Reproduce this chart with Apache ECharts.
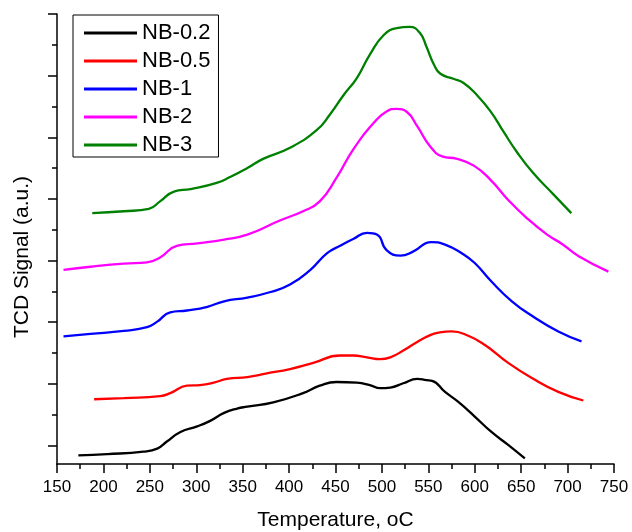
<!DOCTYPE html>
<html>
<head>
<meta charset="utf-8">
<script src="https://cdn.jsdelivr.net/npm/echarts@6/dist/echarts.min.js"></script>
<style>html,body{margin:0;padding:0;background:#fff;}#c{width:632px;height:532px;}</style>
</head>
<body>
<div id="c"></div>
<script>
const seriesNames = ['NB-0.2', 'NB-0.5', 'NB-1', 'NB-2', 'NB-3'];
const seriesColors = ['#000000', '#ff0000', '#0000ff', '#ff00ff', '#008000'];
const xTicks = [150, 750, 50];
const yMajorTicks = [0.3, 1.3, 2.3, 3.3, 4.3, 5.3, 6.3, 7.3];
const yMinorTicks = [0.8, 1.8, 2.8, 3.8, 4.8, 5.8, 6.8];

const nb02 = [[173,0.14],[204,0.16],[243,0.20],[258,0.25],[268,0.36],[283,0.52],[301,0.61],[315,0.70],[330,0.83],[344,0.90],[355,0.93],[383,1.00],[415,1.15],[433,1.27],[451,1.33],[473,1.32],[487,1.28],[498,1.23],[509,1.24],[523,1.31],[538,1.38],[548,1.36],[554,1.35],[568,1.17],[582,1.01],[600,0.77],[618,0.52],[636,0.31],[654,0.09]];
const nb05 = [[190,1.05],[222,1.07],[261,1.10],[272,1.15],[290,1.27],[304,1.28],[319,1.32],[333,1.38],[355,1.41],[376,1.47],[401,1.54],[426,1.64],[455,1.76],[469,1.76],[484,1.73],[498,1.70],[509,1.73],[523,1.84],[538,1.98],[552,2.09],[561,2.13],[575,2.15],[593,2.08],[611,1.93],[636,1.64],[662,1.39],[690,1.17],[717,1.03]];
const nb1 = [[157,2.07],[186,2.11],[222,2.16],[247,2.22],[258,2.31],[272,2.46],[290,2.49],[312,2.55],[330,2.64],[355,2.70],[380,2.79],[401,2.91],[423,3.15],[441,3.42],[455,3.54],[469,3.65],[484,3.75],[495,3.72],[505,3.47],[520,3.38],[534,3.45],[553,3.60],[568,3.56],[586,3.42],[600,3.26],[618,2.96],[640,2.64],[662,2.40],[690,2.15],[715,1.99]];
const nb2 = [[157,3.15],[186,3.20],[222,3.25],[247,3.27],[261,3.35],[279,3.54],[301,3.58],[330,3.64],[355,3.72],[390,3.95],[415,4.10],[433,4.26],[451,4.64],[469,5.10],[491,5.53],[505,5.72],[516,5.76],[527,5.71],[538,5.48],[552,5.15],[565,4.99],[581,4.95],[599,4.84],[617,4.61],[635,4.30],[656,3.99],[678,3.72],[694,3.57],[712,3.37],[744,3.12]];
const nb3 = [[188,4.07],[222,4.10],[249,4.14],[261,4.26],[276,4.42],[294,4.46],[322,4.56],[337,4.66],[355,4.80],[372,4.95],[401,5.13],[430,5.42],[444,5.67],[459,5.99],[473,6.26],[487,6.64],[502,6.96],[516,7.07],[530,7.09],[541,6.99],[548,6.77],[556,6.48],[563,6.33],[577,6.25],[588,6.18],[602,5.99],[617,5.72],[631,5.39],[645,5.07],[663,4.72],[685,4.37],[704,4.07]];

const allData = [nb02, nb05, nb1, nb2, nb3];
const FONT = '"Liberation Sans", Arial, sans-serif';

const chart = echarts.init(document.getElementById('c'), null, {renderer: 'canvas'});
chart.setOption({
  animation: false,
  backgroundColor: '#fff',
  grid: {left: 57, right: 18, top: 14, bottom: 68, containLabel: false, outerBoundsMode: 'none'},
  legend: {
    orient: 'vertical', left: 73, top: 15,
    padding: [7, 8, 1, 11], itemGap: 6,
    itemWidth: 53, itemHeight: 3, icon: 'rect',
    borderColor: '#000', borderWidth: 1, borderRadius: 0,
    textStyle: {fontFamily: FONT, fontSize: 22, lineHeight: 22, color: '#000'},
    data: seriesNames
  },
  xAxis: {
    type: 'value', min: xTicks[0], max: xTicks[1], interval: xTicks[2],
    name: 'Temperature, oC', nameLocation: 'middle', nameGap: 46,
    nameTextStyle: {fontFamily: FONT, fontSize: 21, color: '#000'},
    axisLine: {show: true, lineStyle: {color: '#000', width: 1.5}},
    axisTick: {show: true, inside: false, length: 9, lineStyle: {color: '#000', width: 1.5}},
    minorTick: {show: true, splitNumber: 2, length: 5, lineStyle: {color: '#000', width: 1.5}},
    axisLabel: {fontFamily: FONT, fontSize: 17, color: '#000', margin: 15},
    splitLine: {show: false}
  },
  yAxis: [{
    type: 'value', min: 0, max: 7.3,
    axisLine: {show: true, lineStyle: {color: '#000', width: 1.5}},
    axisTick: {show: true, inside: false, length: 9, customValues: yMajorTicks, lineStyle: {color: '#000', width: 1.5}},
    axisLabel: {show: false},
    splitLine: {show: false}
  }, {
    type: 'value', min: 0, max: 7.3, position: 'left',
    axisLine: {show: false},
    axisTick: {show: true, inside: false, length: 5, customValues: yMinorTicks, lineStyle: {color: '#000', width: 1.5}},
    axisLabel: {show: false},
    splitLine: {show: false}
  }],
  graphic: [{
    type: 'text', x: 22, y: 257, rotation: Math.PI / 2,
    style: {text: 'TCD Signal (a.u.)', font: '21px "Liberation Sans", Arial, sans-serif', fill: '#000', align: 'center', verticalAlign: 'middle'}
  }],
  series: seriesNames.map((n, i) => ({
    name: n, type: 'line', data: allData[i], yAxisIndex: 0,
    showSymbol: false, symbol: 'none', smooth: 0.5,
    color: seriesColors[i],
    itemStyle: {color: seriesColors[i]},
    lineStyle: {color: seriesColors[i], width: 2.3}
  }))
});
</script>
</body>
</html>
